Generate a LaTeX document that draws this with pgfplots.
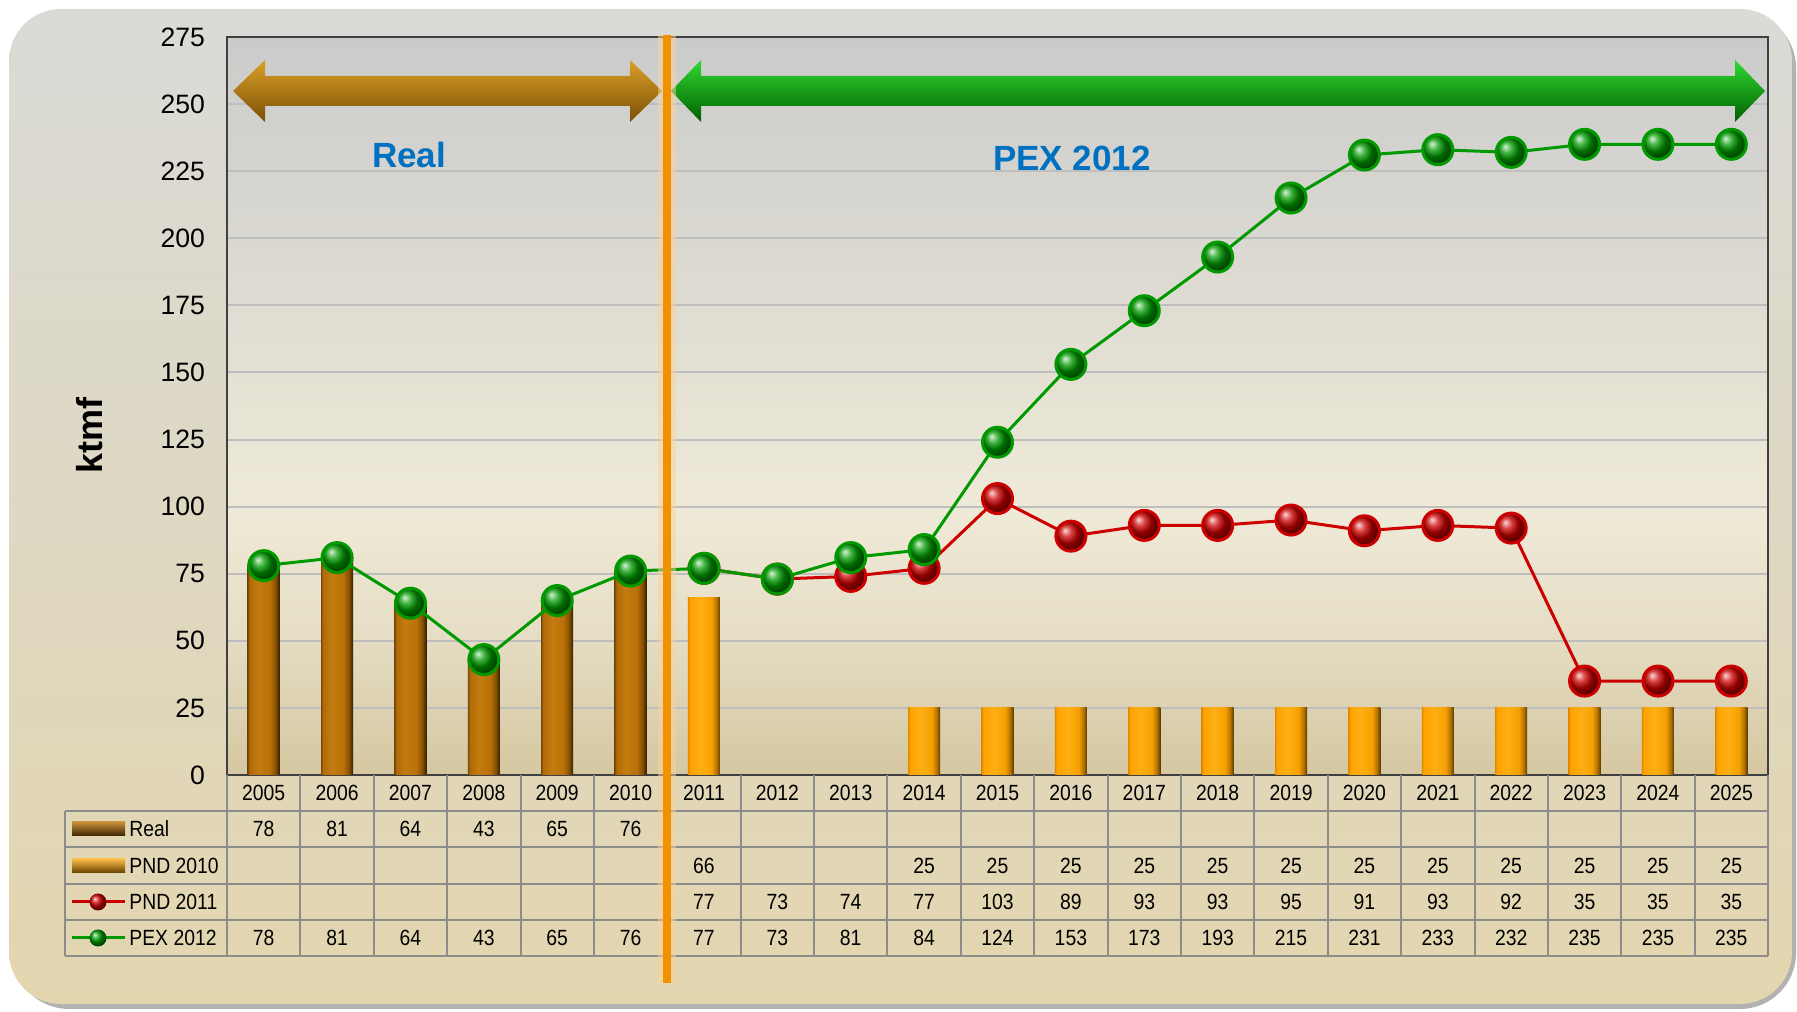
\documentclass[border=0pt]{standalone}
\usepackage{fontspec}
\setmainfont{Liberation Sans}
\newfontfamily\narrow[FakeStretch=0.88]{Liberation Sans}
\usepackage{pgfplots}
\pgfplotsset{compat=1.18}
\usepackage{pgfplotstable}

\definecolor{frameTop}{HTML}{DADAD7}
\definecolor{frameMid}{HTML}{F3EDD7}
\definecolor{frameBot}{HTML}{E3D6AF}
\definecolor{gridc}{HTML}{BEBEBE}
\definecolor{tabline}{HTML}{8C8C8C}
\definecolor{brownMain}{HTML}{BA720A}
\definecolor{brownLeft}{HTML}{7A4A05}
\definecolor{brownDark}{HTML}{3A2200}
\definecolor{orMain}{HTML}{FFA500}
\definecolor{orDark}{HTML}{6B4500}
\definecolor{redc}{HTML}{CC0000}
\definecolor{greenc}{HTML}{009A00}
\definecolor{bluet}{HTML}{0070C0}
\definecolor{vline}{HTML}{F29100}

\pgfdeclareverticalshading{plotbg}{100bp}{color(0bp)=(rgb,255:red,213;green,199;blue,160); color(25bp)=(rgb,255:red,213;green,199;blue,160); color(35bp)=(rgb,255:red,230;green,222;blue,198); color(43bp)=(rgb,255:red,239;green,234;blue,216); color(54bp)=(rgb,255:red,226;green,223;blue,211); color(70bp)=(rgb,255:red,208;green,208;blue,206); color(75bp)=(rgb,255:red,203;green,203;blue,203); color(100bp)=(rgb,255:red,203;green,203;blue,203)}

\pgfdeclarehorizontalshading{brownbar}{100bp}{color(0bp)=(rgb,255:red,122;green,74;blue,5); color(25bp)=(rgb,255:red,122;green,74;blue,5); color(28bp)=(rgb,255:red,176;green,106;blue,8); color(42bp)=(rgb,255:red,196;green,124;blue,16); color(60bp)=(rgb,255:red,184;green,112;blue,8); color(69bp)=(rgb,255:red,130;green,78;blue,2); color(75bp)=(rgb,255:red,50;green,30;blue,0); color(100bp)=(rgb,255:red,50;green,30;blue,0)}

\pgfdeclarehorizontalshading{orbar}{100bp}{color(0bp)=(rgb,255:red,224;green,138;blue,0); color(25bp)=(rgb,255:red,224;green,138;blue,0); color(28bp)=(rgb,255:red,255;green,162;blue,0); color(45bp)=(rgb,255:red,255;green,175;blue,20); color(62bp)=(rgb,255:red,245;green,160;blue,0); color(70bp)=(rgb,255:red,176;green,112;blue,0); color(75bp)=(rgb,255:red,90;green,58;blue,0); color(100bp)=(rgb,255:red,90;green,58;blue,0)}

\pgfplotstableread{
x v
0 78
1 81
2 64
3 43
4 65
5 76
}\realdata

\pgfplotstableread{
x v
6 66
9 25
10 25
11 25
12 25
13 25
14 25
15 25
16 25
17 25
18 25
19 25
20 25
}\pndten

\pgfplotstableread{
x v
6 77
7 73
8 74
9 77
10 103
11 89
12 93
13 93
14 95
15 91
16 93
17 92
18 35
19 35
20 35
}\pndeleven

\pgfplotstableread{
x v
0 78
1 81
2 64
3 43
4 65
5 76
6 77
7 73
8 81
9 84
10 124
11 153
12 173
13 193
14 215
15 231
16 233
17 232
18 235
19 235
20 235
}\pex

\newcommand\tabfont{\narrow\fontsize{11}{12}\selectfont}

\begin{document}
\begin{tikzpicture}[x=0.5pt,y=0.5pt]
\useasboundingbox (0,0) rectangle (1797,1011);
% frame shadow and frame
\fill[black!30, rounded corners=28pt] (13,2) rectangle (1796,999);
\shade[rounded corners=26pt, top color=frameTop, middle color=frameMid, bottom color=frameBot] (9,7) rectangle (1792,1002);

\begin{axis}[
  at={(113.5pt,118pt)}, anchor=south west,
  scale only axis, width=770.5pt, height=369pt,
  xmin=-0.5, xmax=20.5, ymin=0, ymax=275,
  ytick={0,25,...,275},
  xtick={0,...,20},
  xticklabels={2005,2006,2007,2008,2009,2010,2011,2012,2013,2014,2015,2016,2017,2018,2019,2020,2021,2022,2023,2024,2025},
  major tick length=0pt,
  ymajorgrids, grid style={draw=gridc, line width=1pt},
  axis line style={draw=black!75, line width=1pt},
  /pgf/number format/assume math mode=true,
  yticklabel style={font=\fontsize{13.3}{14}\selectfont, anchor=east, xshift=-7.5pt},
  xticklabel style={font=\tabfont, anchor=center, yshift=-9pt},
  axis background/.style={shading=plotbg},
  clip=false,
]
\pgfplotsinvokeforeach{0,...,5}{
\addplot[ybar, bar width=16pt, bar shift=0pt, draw=none, shading=brownbar, restrict x to domain=#1:#1] table[x=x,y=v]{\realdata};
}
\pgfplotsinvokeforeach{6,9,10,...,20}{
\addplot[ybar, bar width=16pt, bar shift=0pt, draw=none, shading=orbar, restrict x to domain=#1:#1] table[x=x,y=v]{\pndten};
}
\addplot[color=redc, line width=1.5pt, mark=ball, mark size=7.5pt, mark options={ball color=redc}] table[x=x,y=v]{\pndeleven};
\addplot[color=greenc, line width=1.5pt, mark=ball, mark size=7.5pt, mark options={ball color=greenc}] table[x=x,y=v]{\pex};
% data table text
\addplot[draw=none, mark=none, nodes near coords, point meta=explicit symbolic,
  every node near coord/.append style={anchor=center, text=black, font=\tabfont}] table[x=x, y expr=-20.1, meta=v]{\realdata};
\addplot[draw=none, mark=none, nodes near coords, point meta=explicit symbolic,
  every node near coord/.append style={anchor=center, text=black, font=\tabfont}] table[x=x, y expr=-33.7, meta=v]{\pndten};
\addplot[draw=none, mark=none, nodes near coords, point meta=explicit symbolic,
  every node near coord/.append style={anchor=center, text=black, font=\tabfont}] table[x=x, y expr=-47.3, meta=v]{\pndeleven};
\addplot[draw=none, mark=none, nodes near coords, point meta=explicit symbolic,
  every node near coord/.append style={anchor=center, text=black, font=\tabfont}] table[x=x, y expr=-60.7, meta=v]{\pex};
\end{axis}

% table grid
\foreach \k in {0,...,21} \draw[tabline, line width=1pt] ({227+\k*73.381},55) -- ({227+\k*73.381},236);
\foreach \yy in {200,164,127,91,55} \draw[tabline, line width=1pt] (65,\yy) -- (1768,\yy);
\draw[tabline, line width=1pt] (65,55) -- (65,200);

% legend
\shade[top color=brownMain!80!white, middle color=brownMain, bottom color=brownDark] (72,175) rectangle (125,189);
\shade[top color=orMain!70!white, middle color=orMain, bottom color=orDark] (72,138.5) rectangle (125,152.5);
\draw[redc, line width=1.5pt] (72,109) -- (125,109);
\shade[ball color=redc] (98,109) circle (8.5);
\draw[greenc, line width=1.5pt] (72,73) -- (125,73);
\shade[ball color=greenc] (98,73) circle (8.5);
\node[anchor=west, font=\tabfont, inner sep=0pt] at (129,182) {Real};
\node[anchor=west, font=\tabfont, inner sep=0pt] at (129,145.5) {PND 2010};
\node[anchor=west, font=\tabfont, inner sep=0pt] at (129,109) {PND 2011};
\node[anchor=west, font=\tabfont, inner sep=0pt] at (129,73) {PEX 2012};

% y label
\node[rotate=90, font=\bfseries\fontsize{18}{20}\selectfont] at (90,575) {ktmf};

% arrows
\definecolor{arTop}{HTML}{DCA028}
\definecolor{arMid}{HTML}{B57A0C}
\definecolor{arBot}{HTML}{7A5005}
\shade[top color=arTop, middle color=arMid, bottom color=arBot]
  (233,920) -- (265,951) -- (265,935) -- (630,935) -- (630,951) -- (662,920) -- (630,889) -- (630,905) -- (265,905) -- (265,889) -- cycle;
\definecolor{agTop}{HTML}{30D830}
\definecolor{agMid}{HTML}{00A000}
\definecolor{agBot}{HTML}{006000}
\shade[top color=agTop, middle color=agMid, bottom color=agBot]
  (671,920) -- (701,951) -- (701,935) -- (1735,935) -- (1735,951) -- (1765,920) -- (1735,889) -- (1735,905) -- (701,905) -- (701,889) -- cycle;

\node[font=\bfseries\fontsize{17.5}{20}\selectfont, text=bluet] at (409,856) {Real};
\node[font=\bfseries\fontsize{17.5}{20}\selectfont, text=bluet] at (1072,853) {PEX 2012};

% separator line
\draw[vline!40, line width=9, opacity=0.5] (667,28) -- (667,976);
\draw[vline, line width=4] (667,28) -- (667,976);
\end{tikzpicture}
\end{document}
